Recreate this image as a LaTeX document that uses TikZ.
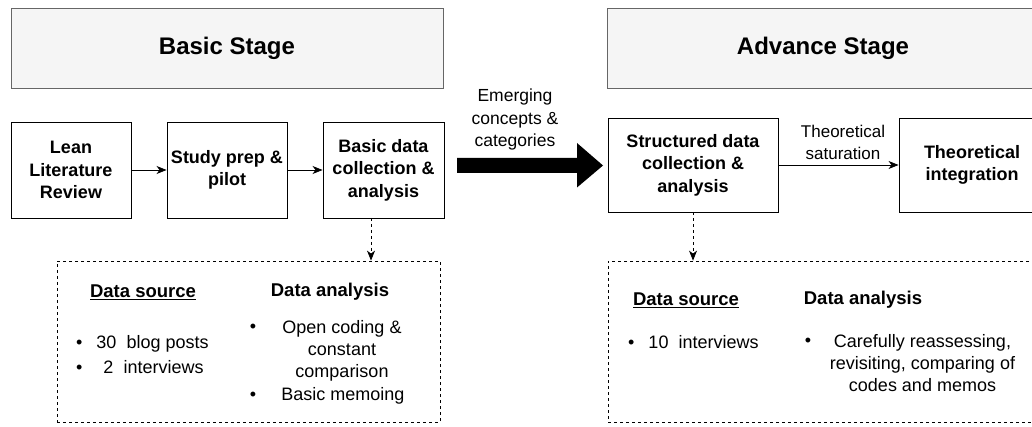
\documentclass[tikz,border=0pt]{standalone}
\usepackage{fontspec}
\setmainfont{Liberation Sans}
\usetikzlibrary{arrows.meta,positioning}
\definecolor{stagefill}{HTML}{F5F5F5}
\definecolor{stageline}{HTML}{666666}
\begin{document}
\begin{tikzpicture}[x=1pt,y=-1pt,
  stagebox/.style={draw=stageline,fill=stagefill,line width=0.9pt,minimum width=432pt,minimum height=80pt,inner sep=0pt,font=\fontsize{24}{28}\selectfont\bfseries},
  stepbox/.style={draw=black,line width=0.9pt,inner sep=0pt,align=center,font=\fontsize{18}{22.5}\selectfont\bfseries},
  infobox/.style={draw=black,dashed,line width=0.8pt,inner sep=0pt},
  arr/.style={-{Stealth[length=10pt,width=8pt,inset=3pt]},line width=0.8pt},
  darr/.style={-{Stealth[length=10pt,width=8pt,inset=3pt]},line width=0.8pt,dashed},
  lbl/.style={inner sep=0pt,align=center,font=\fontsize{17}{21.5}\selectfont},
  txt/.style={inner sep=0pt,align=center,font=\fontsize{18}{22}\selectfont},
  hd/.style={inner sep=0pt,font=\fontsize{18.5}{22}\selectfont\bfseries},
  bul/.style={inner sep=0pt,font=\fontsize{18}{22}\selectfont}
]
\useasboundingbox (0,0) rectangle (1032,427);
\clip (0,0) rectangle (1032,427);
% stage headers
\node[stagebox] (basic) at (227,48) {Basic Stage};
\node[stagebox] (adv) at (823,48) {Advance Stage};
% steps
\node[stepbox,minimum width=120pt,minimum height=96pt] (lean) at (71,170) {Lean\\Literature\\Review};
\node[stepbox,minimum width=120pt,minimum height=96pt] (prep) at (227,170) {Study prep \&\\pilot};
\node[stepbox,minimum width=121pt,minimum height=96pt] (bdc) at (383.5,170) {Basic data\\collection \&\\analysis};
\node[stepbox,minimum width=170pt,minimum height=94pt] (sdc) at (693,165) {Structured data\\collection \&\\analysis};
\node[stepbox,minimum width=146pt,minimum height=94pt] (ti) at (972,165) {Theoretical\\integration};
\draw[arr] (lean) -- (prep);
\draw[arr] (prep) -- (bdc);
\draw[arr] (sdc) -- (ti);
\node[lbl] (satl) at (843,142.5) {Theoretical\\saturation};
% big arrow
\coordinate (bigs) at (457,165.5);
\coordinate (bige) at (603,165.5);
\fill[black] (bigs) ++(0,-7.5) -- ++(120,0) -- ++(0,-15) -- (bige) -- (577,187.5) -- (577,173) -- (457,173) -- cycle;
\node[lbl,font=\fontsize{17.5}{22.5}\selectfont] (eml) at (515,119.5) {Emerging\\concepts \&\\categories};
% dashed info boxes
\node[infobox,minimum width=383pt,minimum height=161pt] (info1) at (248.5,341.5) {};
\node[infobox,minimum width=460pt,minimum height=161pt] (info2) at (838,341.5) {};
\coordinate (a1) at (371,218);
\draw[darr] (a1) -- (a1 |- info1.north);
\draw[darr] (sdc.south) -- (sdc.south |- info2.north);
% info 1
\node[hd] (ds1) at (143,292) {\underline{Data source}};
\node[hd] (da1) at (330,292) {Data analysis};
\node[bul,anchor=west] (b1a) at (76,344) {\textbullet\hspace{9pt} 30\ \ blog posts};
\node[bul,anchor=west] (b1b) at (76,367) {\textbullet\hspace{16pt} 2\ \ interviews};
\node[bul] (b2a) at (253,328) {\textbullet};
\node[txt] (t2a) at (342,350.5) {Open coding \&\\constant\\comparison};
\node[bul] (b2b) at (253,396) {\textbullet};
\node[txt] (t2b) at (343,396) {Basic memoing};
% info 2
\node[hd] (ds2) at (686,300) {\underline{Data source}};
\node[hd] (da2) at (863,300) {Data analysis};
\node[bul,anchor=west] (b3a) at (628,342) {\textbullet\hspace{9pt} 10\ \ interviews};
\node[bul] (b4a) at (808,342) {\textbullet};
\node[txt] (t4a) at (922.5,363) {Carefully reassessing,\\revisiting, comparing of\\codes and memos};
\end{tikzpicture}
\end{document}
